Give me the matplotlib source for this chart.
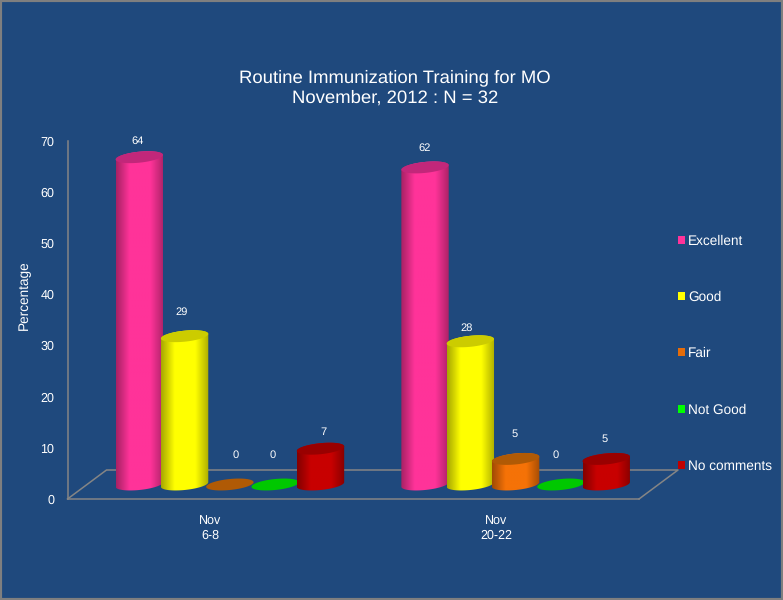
import numpy as np
import matplotlib
matplotlib.use("Agg")
import matplotlib.pyplot as plt
from matplotlib.patches import Patch, Polygon, Rectangle
from matplotlib.colors import to_rgb

plt.rcParams['font.family'] = ['Liberation Sans', 'DejaVu Sans']
plt.rcParams['text.hinting'] = 'no_hinting'
plt.rcParams['text.hinting_factor'] = 8

periods = ["Nov\n6-8", "Nov\n20-22"]
series = ["Excellent", "Good", "Fair", "Not Good", "No comments"]
excellent = [64, 62]
good = [29, 28]
fair = [0, 5]
not_good = [0, 0]
no_comments = [7, 5]
values = [excellent, good, fair, not_good, no_comments]
y_ticks = [0, 10, 20, 30, 40, 50, 60, 70]

# styling
BG = "#1F497D"
AX = "#858585"
body = ["#FF3399", "#FFFF00", "#F57207", "#00CC00", "#C80000"]
lid = ["#C2277A", "#CCCC00", "#B05A05", "#00C800", "#990000"]
legend_cols = ["#FF3399", "#FFFF00", "#E46C0A", "#00FF00", "#C00000"]
# label nudges in pixels (dx, dy above lid), per period then series
nudges = [[(-2, 16), (-3, 24), (6, 29), (-3, 29), (3, 17)],
          [(0, 19), (-4, 13), (-1, 25), (-5, 29), (-2, 20)]]

W, H = 783, 600
L, R, T, B = 67.5, 639, 141, 499
fig = plt.figure(figsize=(W / 100, H / 100), dpi=100, facecolor=BG)
ax = fig.add_axes([L / W, 1 - B / H, (R - L) / W, (B - T) / H])
ax.set_facecolor("none")
ax.set_xlim(0, 2)
ax.set_ylim(0, 70)
ax.autoscale(False)
px_x = 2 / (R - L)
px_y = 70 / (B - T)

fig.add_artist(Rectangle((0, 0), 1, 1, transform=fig.transFigure, fill=False,
                         ec="#7F7F7F", lw=3, zorder=10))

for s in ("top", "right"):
    ax.spines[s].set_visible(False)
for s in ("left", "bottom"):
    ax.spines[s].set_color(AX)
    ax.spines[s].set_linewidth(1.1)

# floor
dx, dy = 39 * px_x, 29 * px_y
ax.plot([0, dx, 2 + dx, 2], [0, dy, dy, 0], color=AX, lw=1.1, clip_on=False, zorder=1)

ax.set_yticks(y_ticks)
ax.set_xticks([0.5, 1.5], periods)
ax.tick_params(axis="both", length=0, colors="white", labelsize=9)
ax.tick_params(axis="y", pad=9.5)
ax.tick_params(axis="x", pad=12)
ax.set_ylabel("Percentage", color="white", fontsize=9.8, y=0.57, labelpad=6.5)

step = 45.3 * px_x
half = 23.7 * px_x
a_b, a_k = 5.5 * px_y, 2.3 * px_y
base = dy / 2
off = dx / 2
t_all = np.linspace(0, 2 * np.pi, 80)


def ell(cx, cy, t):
    return np.c_[cx + half * np.cos(t), cy + a_b * np.sin(t) + a_k * np.cos(t)]


def shade(col):
    c = np.array(to_rgb(col))
    xs = np.linspace(0, 1, 64)
    f = np.interp(xs, [0, 0.12, 0.28, 0.72, 0.88, 1], [0.66, 0.8, 1, 1, 0.82, 0.68])
    return (f[:, None] * c)[None, :, :]


for g in range(len(periods)):
    for i in range(len(series)):
        v = values[i][g]
        cx = g + 0.5 + off + (i - 2) * step
        top = base + v
        z = 3 + i
        if v > 0:
            lower = ell(cx, base, np.linspace(np.pi, 2 * np.pi, 40))
            upper = ell(cx, top, np.linspace(0, np.pi, 40))
            clip = Polygon(np.r_[lower, upper], closed=True, transform=ax.transData,
                           fc="none", ec="none")
            ax.add_patch(clip)
            im = ax.imshow(shade(body[i]), extent=[cx - half, cx + half, base - 2, top + 2],
                           aspect="auto", interpolation="bilinear", zorder=z)
            im.set_clip_path(clip)
        ax.add_patch(Polygon(ell(cx, top, t_all), closed=True, fc=lid[i], ec="none", zorder=z + 0.1))
        ndx, ndy = nudges[g][i]
        ax.annotate(str(v), (cx, top), xytext=(ndx, ndy), textcoords="offset pixels",
                    ha="center", va="center", color="white", fontsize=8, zorder=20)

ax.set_xlim(0, 2)
ax.set_ylim(0, 70)

handles = [Patch(fc=c, ec="none") for c in legend_cols]
fig.legend(handles, series, loc="center left", bbox_to_anchor=(677.5 / W, 1 - 353.5 / H),
           frameon=False, fontsize=9.8, labelcolor="white", borderpad=0, borderaxespad=0,
           handlelength=0.52, handleheight=0.52, handletextpad=0.25, labelspacing=3.18)

fig.text(395 / W, 1 - 88 / H, "Routine Immunization Training for MO\nNovember, 2012 : N = 32",
         ha="center", va="center", color="white", fontsize=13.3, linespacing=1.3)

fig.savefig("out.png", dpi=100, facecolor=BG)
